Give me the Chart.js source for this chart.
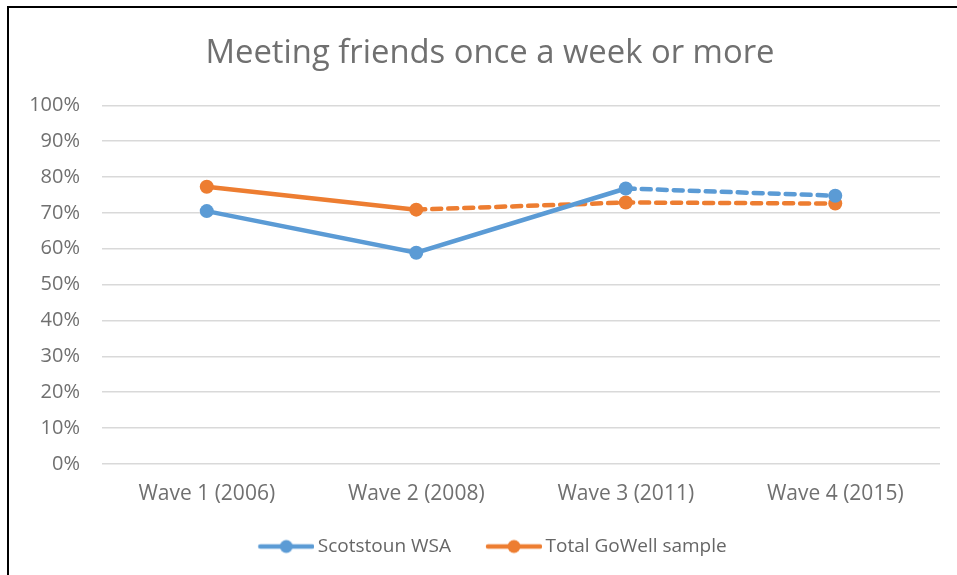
<!DOCTYPE html>
<html><head><meta charset="utf-8">
<script src="https://cdn.jsdelivr.net/npm/chart.js@4/dist/chart.umd.min.js"></script>
<style>
html,body{margin:0;padding:0;background:#fff;overflow:hidden}
#wrap{position:absolute;left:0;top:0;width:957px;height:575px}
#frame{position:absolute;left:7px;top:6px;width:960px;height:580px;border-left:2px solid #000;border-top:2px solid #000;pointer-events:none}
</style></head><body>
<div id="wrap"><canvas id="c" width="957" height="575"></canvas><div id="frame"></div></div>
<script>
const titleText = "Meeting friends once a week or more";
const categories = ["Wave 1 (2006)", "Wave 2 (2008)", "Wave 3 (2011)", "Wave 4 (2015)"];
const seriesNames = ["Scotstoun WSA", "Total GoWell sample"];
const scotstoun = [70.5, 58.9, 76.8, 74.8];
const gowell = [77.3, 70.9, 72.9, 72.6];
const scotstounDashFrom = 2;   // segments from this index on are dashed
const gowellDashFrom = 1;
const yTicks = [0,10,20,30,40,50,60,70,80,90,100];
const colors = ["#5B9BD5", "#ED7D31"];

const BOX = 73;
function legendIcon(color){
  const cv = document.createElement('canvas');
  cv.width = BOX + 12; cv.height = 16;
  const g = cv.getContext('2d');
  const x1 = cv.width - 2, x0 = x1 - 52;
  g.strokeStyle = color; g.lineWidth = 4.5; g.lineCap = 'round';
  g.beginPath(); g.moveTo(x0,8); g.lineTo(x1,8); g.stroke();
  g.fillStyle = color; g.beginPath(); g.arc((x0+x1)/2,8,6.5,0,Math.PI*2); g.fill();
  return cv;
}
const icons = colors.map(legendIcon);

function ds(label, data, color, dashFrom){
  return {
    label, data, borderColor: color, backgroundColor: color,
    borderWidth: 4.5, pointRadius: 7, pointHoverRadius: 7,
    pointBackgroundColor: color, pointBorderColor: color, pointBorderWidth: 0,
    tension: 0, fill: false, borderCapStyle: 'round',
    segment: { borderDash: ctx => ctx.p0DataIndex >= dashFrom ? [9,7] : undefined }
  };
}
// nudge title and legend horizontally (reference centres them on the full frame)
const shiftPlugin = {
  id: 'shift',
  afterLayout(chart){
    const t = chart.titleBlock; if (t){ t.left += 20; t.right += 20; }
    const l = chart.legend; if (l){ l.left += 11; l.right += 11; }
  }
};
const font = "'Open Sans', sans-serif";
new Chart(document.getElementById('c'), {
  type: 'line',
  data: { labels: categories, datasets: [
    ds(seriesNames[0], scotstoun, colors[0], scotstounDashFrom),
    ds(seriesNames[1], gowell, colors[1], gowellDashFrom)
  ]},
  plugins: [shiftPlugin],
  options: {
    responsive: false, animation: false, devicePixelRatio: 1,
    layout: { padding: { left: 0, right: 17, top: 20, bottom: 9 } },
    plugins: {
      title: { display: true, text: titleText, color: '#707070',
        font: { family: font, size: 32.8, weight: 'normal' }, padding: { top: 14, bottom: 32 } },
      legend: { position: 'bottom',
        labels: { usePointStyle: true, pointStyleWidth: BOX, boxHeight: 16, color: '#666',
          font: { family: font, size: 19 }, padding: 12,
          generateLabels: chart => chart.data.datasets.map((d,i) => ({
            text: d.label, pointStyle: icons[i], fillStyle: d.borderColor, strokeStyle: d.borderColor,
            lineWidth: 0, hidden: false, datasetIndex: i, fontColor: '#666'
          }))
        } },
      tooltip: { enabled: false }
    },
    scales: {
      x: { offset: true,
        grid: { display: false, drawTicks: false },
        border: { display: false },
        ticks: { color: '#707070', font: { family: font, size: 21 }, padding: 18, maxRotation: 0 } },
      y: { min: 0, max: 100,
        afterBuildTicks: s => { s.ticks = yTicks.map(v => ({ value: v })); },
        afterFit: s => { s.width = 102; },
        grid: { color: '#d9d9d9', lineWidth: 1.5, drawTicks: false },
        border: { display: false },
        ticks: { color: '#707070', font: { family: font, size: 20 }, padding: 22,
          callback: v => v + '%' } }
    }
  }
});
</script></body></html>
